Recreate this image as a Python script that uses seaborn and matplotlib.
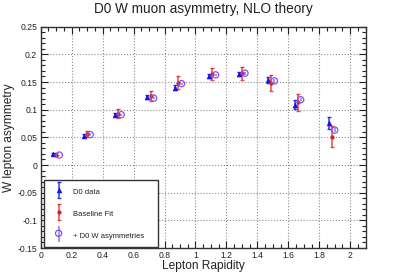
import matplotlib
matplotlib.use("Agg")
import numpy as np
import pandas as pd
import matplotlib.pyplot as plt
import seaborn as sns
from matplotlib.ticker import MultipleLocator, FormatStrFormatter
from matplotlib.container import ErrorbarContainer
from matplotlib.legend_handler import HandlerErrorbar, HandlerTuple

# Lepton rapidity bin positions (baseline fit sits at centre, others are shifted)
rap_d0 = [0.08, 0.28, 0.48, 0.69, 0.87, 1.09, 1.28, 1.47, 1.64, 1.86]
rap_fit = [0.10, 0.30, 0.50, 0.71, 0.89, 1.11, 1.30, 1.49, 1.66, 1.88]
rap_new = [0.12, 0.32, 0.52, 0.73, 0.91, 1.13, 1.32, 1.51, 1.68, 1.90]

# D0 data
asym_d0 = [0.020, 0.053, 0.091, 0.123, 0.140, 0.161, 0.165, 0.154, 0.109, 0.076]
err_d0 = [0.002, 0.003, 0.003, 0.004, 0.004, 0.004, 0.004, 0.005, 0.008, 0.011]

# Baseline fit
asym_fit = [0.019, 0.056, 0.093, 0.125, 0.149, 0.165, 0.166, 0.148, 0.113, 0.051]
err_fit = [0.003, 0.005, 0.0085, 0.0095, 0.011, 0.011, 0.012, 0.0145, 0.016, 0.019]

# + D0 W asymmetries
asym_new = [0.018, 0.055, 0.091, 0.121, 0.147, 0.163, 0.166, 0.152, 0.118, 0.063]
err_new = [0.001, 0.002, 0.002, 0.002, 0.002, 0.002, 0.003, 0.003, 0.003, 0.003]

labels = ["D0 data", "Baseline Fit", "+ D0 W asymmetries"]

sns.set_theme(style="ticks")
plt.rcParams['font.family'] = ['Liberation Sans', 'DejaVu Sans']

c_blue = '#1414e6'
c_red = '#dd1c1c'
c_purple = '#8a4fe6'

fig, ax = plt.subplots(figsize=(4.07, 2.76), dpi=100)
fig.subplots_adjust(left=0.100, right=0.8985, bottom=0.1014, top=0.9033)

ax.grid(True, which='major', linestyle=':', color='#8c8c8c', lw=0.8)
ax.set_axisbelow(True)

eb_d0 = ax.errorbar(rap_d0, asym_d0, yerr=err_d0, fmt='none', ecolor=c_blue,
                    elinewidth=1.1, capsize=1.5, capthick=1.0, alpha=0.85, zorder=3)
eb_fit = ax.errorbar(rap_fit, asym_fit, yerr=err_fit, fmt='none', ecolor=c_red,
                     elinewidth=1.1, capsize=1.5, capthick=1.0, alpha=0.8, zorder=3)
eb_new = ax.errorbar(rap_new, asym_new, yerr=err_new, fmt='none', ecolor=c_purple,
                     elinewidth=1.1, capsize=0, alpha=0.8, zorder=3)

df_d0 = pd.DataFrame({'x': rap_d0, 'y': asym_d0})
df_fit = pd.DataFrame({'x': rap_fit, 'y': asym_fit})
df_new = pd.DataFrame({'x': rap_new, 'y': asym_new})

sns.scatterplot(data=df_d0, x='x', y='y', ax=ax, marker='^', s=13,
                color=c_blue, edgecolor=c_blue, linewidth=0.3, zorder=4)
sc_d0 = ax.collections[-1]
sns.scatterplot(data=df_fit, x='x', y='y', ax=ax, marker='o', s=7,
                color=c_red, edgecolor=c_red, linewidth=0.3, zorder=4)
sc_fit = ax.collections[-1]
sns.scatterplot(data=df_new, x='x', y='y', ax=ax, marker='o', s=20,
                facecolor='none', edgecolor=c_purple, linewidth=0.9, zorder=4)
sc_new = ax.collections[-1]

ax.set_xlim(0, 2.1)
ax.set_ylim(-0.15, 0.25)
ax.xaxis.set_major_locator(MultipleLocator(0.2))
ax.xaxis.set_minor_locator(MultipleLocator(0.05))
ax.yaxis.set_major_locator(MultipleLocator(0.05))
ax.yaxis.set_minor_locator(MultipleLocator(0.01))
ax.xaxis.set_major_formatter(FormatStrFormatter('%g'))
ax.yaxis.set_major_formatter(FormatStrFormatter('%g'))
ax.tick_params(which='both', direction='in', top=True, right=True,
               labelsize=6.2, colors='#222222', labelcolor='#222222', width=0.8)
ax.tick_params(which='major', length=5, pad=2.5)
ax.tick_params(which='minor', length=3)
for sp in ax.spines.values():
    sp.set_color('#333333')
    sp.set_linewidth(1.0)

ax.set_title('D0 W muon asymmetry, NLO theory', fontsize=9.8, pad=9.6, color='#222222')
ax.set_xlabel('Lepton Rapidity', fontsize=8.6, color='#222222')
ax.set_ylabel('W lepton asymmetry', fontsize=8.6, color='#222222')
ax.xaxis.set_label_coords(0.5, -0.052)
ax.yaxis.set_label_coords(-0.079, 0.5)

handles = [(eb_d0, sc_d0), (eb_fit, sc_fit), (eb_new, sc_new)]
leg = ax.legend(handles, labels, loc='lower left',
                bbox_to_anchor=(0.011, 0.005, 0.351, 0.36), mode='expand',
                borderaxespad=0, fontsize=5.5, frameon=True, fancybox=False,
                edgecolor='#333333', framealpha=1, borderpad=0.75,
                handlelength=2.25, handleheight=2.0, handletextpad=0.8,
                labelspacing=1.3,
                handler_map={tuple: HandlerTuple(ndivide=1),
                             ErrorbarContainer: HandlerErrorbar(yerr_size=1.05)})
leg.get_frame().set_linewidth(1.0)
for t in leg.get_texts():
    t.set_color('#222222')

plt.savefig('out.png', dpi=100)
